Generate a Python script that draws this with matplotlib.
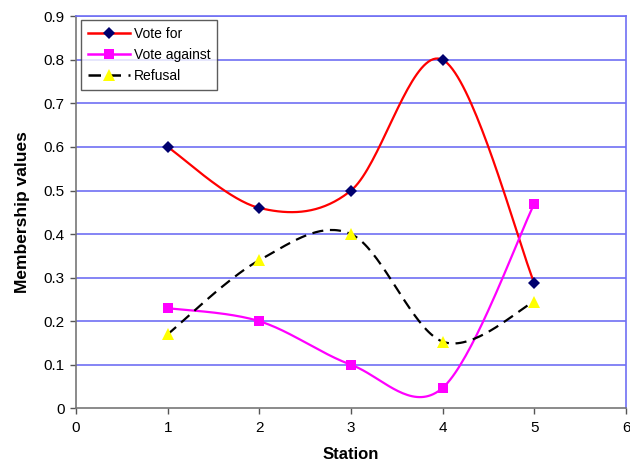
import numpy as np
import matplotlib
matplotlib.use("Agg")
import matplotlib.pyplot as plt

stations = [1, 2, 3, 4, 5]
vote_for = [0.60, 0.46, 0.50, 0.80, 0.287]
vote_against = [0.23, 0.20, 0.10, 0.047, 0.47]
refusal = [0.17, 0.34, 0.40, 0.153, 0.245]
x_ticks = [0, 1, 2, 3, 4, 5, 6]
y_ticks = [0, 0.1, 0.2, 0.3, 0.4, 0.5, 0.6, 0.7, 0.8, 0.9]


def smooth(xs, ys, n=40):
    """Catmull-Rom smoothing through every point (spreadsheet-style smoothed line)."""
    xs = np.asarray(xs, float)
    ys = np.asarray(ys, float)
    px = np.concatenate([[xs[0]], xs, [xs[-1]]])
    py = np.concatenate([[ys[0]], ys, [ys[-1]]])
    out_x, out_y = [], []
    for i in range(1, len(px) - 2):
        p0, p1, p2, p3 = (np.array([px[j], py[j]]) for j in (i - 1, i, i + 1, i + 2))
        m1 = (p2 - p0) / 2.0
        m2 = (p3 - p1) / 2.0
        t = np.linspace(0, 1, n)[:, None]
        h00 = 2 * t**3 - 3 * t**2 + 1
        h10 = t**3 - 2 * t**2 + t
        h01 = -2 * t**3 + 3 * t**2
        h11 = t**3 - t**2
        pts = h00 * p1 + h10 * m1 + h01 * p2 + h11 * m2
        out_x.extend(pts[:, 0])
        out_y.extend(pts[:, 1])
    return np.array(out_x), np.array(out_y)


plt.rcParams["font.family"] = ["Liberation Sans", "DejaVu Sans"]

fig = plt.figure(figsize=(6.3, 4.67), dpi=100)
ax = fig.add_axes([0.1206, 0.1257, 0.8731, 0.8394])

grid_color = "#7070F4"
for y in y_ticks[1:]:
    ax.axhline(y, color=grid_color, lw=1.2, zorder=1)

series = [
    (vote_for, "Vote for", "#FF0000", "-", "D", "#00006E", 6),
    (vote_against, "Vote against", "#FF00FF", "-", "s", "#FF00FF", 7),
    (refusal, "Refusal", "#000000", (0, (5, 3)), "^", "#FFFF00", 8),
]
handles = []
for vals, label, color, ls, marker, mcolor, ms in series:
    sx, sy = smooth(stations, vals)
    ax.plot(sx, sy, color=color, lw=1.6, ls=ls, zorder=3)
    ax.plot(stations, vals, ls="none", marker=marker, color=mcolor,
            markersize=ms, markeredgewidth=0, zorder=4)
    h, = ax.plot([], [], color=color, lw=1.8, ls=ls, marker=marker,
                 markerfacecolor=mcolor, markeredgewidth=0, markersize=ms,
                 label=label)
    handles.append(h)

ax.set_xlim(0, 6)
ax.set_ylim(0, 0.9)
ax.set_xticks(x_ticks)
ax.set_yticks(y_ticks)
ax.set_yticklabels(["0" if v == 0 else f"{v:.1f}" for v in y_ticks])
ax.tick_params(axis="both", labelsize=11, direction="out", length=4,
               color="#555555", width=1)
ax.tick_params(axis="x", pad=5)
ax.tick_params(axis="y", pad=4)

for side in ("left", "bottom"):
    ax.spines[side].set_color("#777777")
    ax.spines[side].set_linewidth(1.2)
ax.spines["right"].set_color(grid_color)
ax.spines["right"].set_linewidth(1.2)
ax.spines["top"].set_color(grid_color)
ax.spines["top"].set_linewidth(1.2)

ax.set_xlabel("Station", fontsize=12, fontweight="bold", labelpad=9)
ax.set_ylabel("Membership values", fontsize=12.5, fontweight="bold", labelpad=10)

leg = ax.legend(handles=handles, loc="upper left", bbox_to_anchor=(0.009, 0.9906),
                borderaxespad=0, fontsize=10, frameon=True, fancybox=False,
                handlelength=3.0, borderpad=0.5, labelspacing=0.5,
                handletextpad=0.3)
leg.get_frame().set_edgecolor("#333333")
leg.get_frame().set_linewidth(1.0)

fig.savefig("out.png", dpi=100)
